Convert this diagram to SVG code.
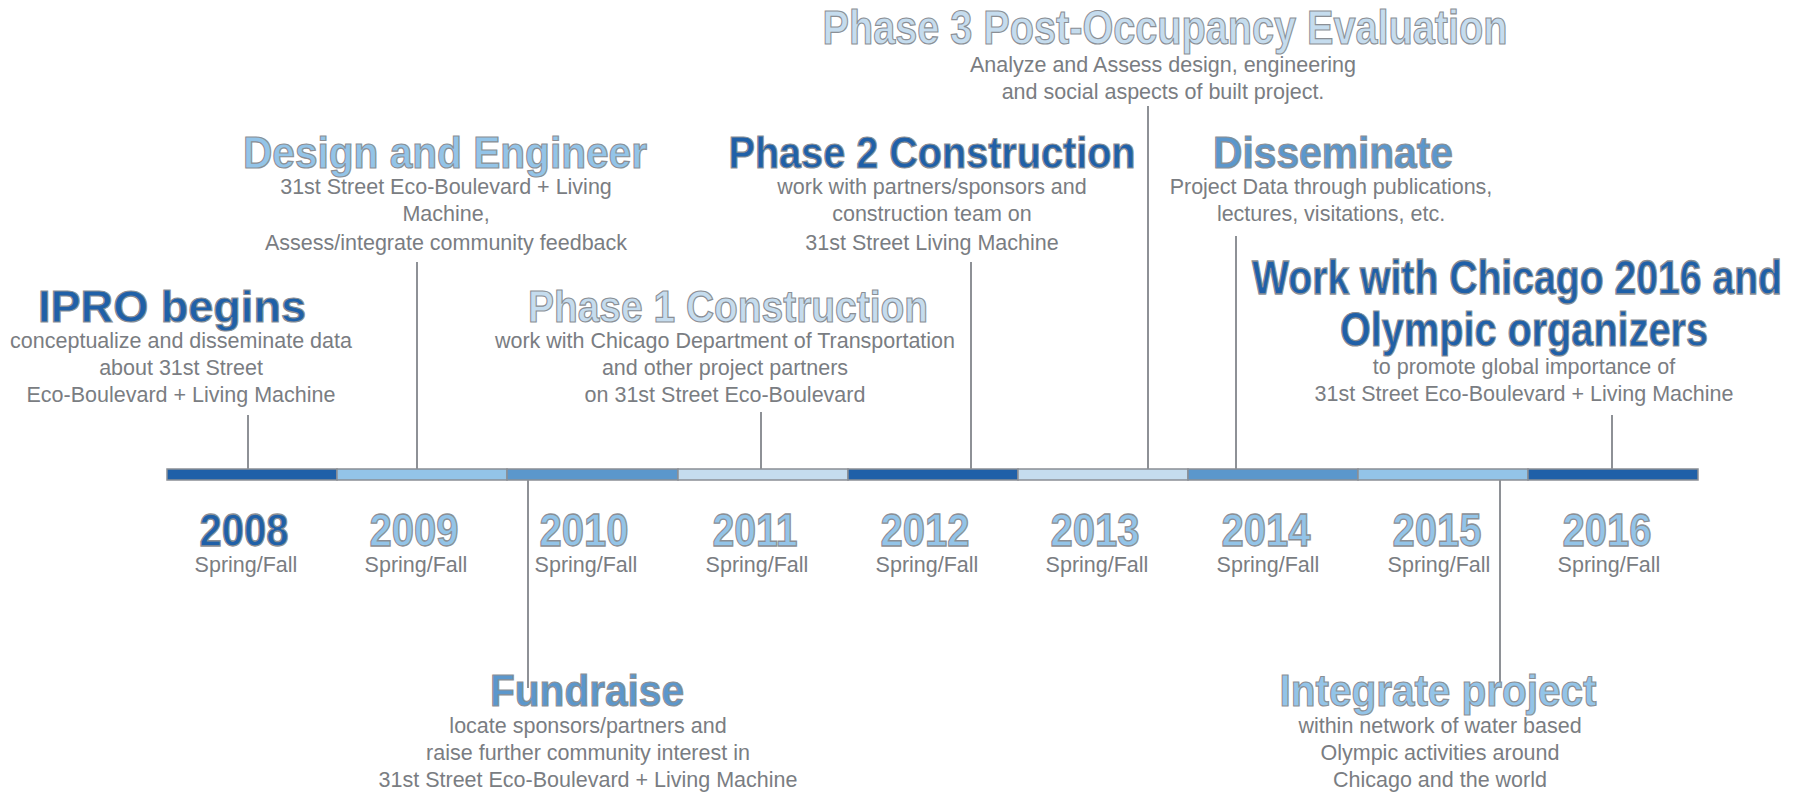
<svg xmlns="http://www.w3.org/2000/svg" width="1808" height="795" viewBox="0 0 1808 795">
<style>
text{font-family:"Liberation Sans",Arial,sans-serif;text-anchor:middle}
.t{font-weight:bold;font-size:45px;stroke:#8b8f95;stroke-width:1.2px}
.d{font-size:21.5px;fill:#7a7d82}
.yr{font-weight:bold;font-size:46px;stroke:#8b8f95;stroke-width:1.3px;fill:#93c4e8}
.sf{font-size:21.5px;fill:#7a7d82}
.dk{fill:#1f60a8}.lt{fill:#93c4e8}.md{fill:#5b97cc}.pl{fill:#c5dcee}
.seg{stroke:#8b8f95;stroke-width:1.5}
.c line{stroke:#8e9196;stroke-width:2}
</style>
<rect width="1808" height="795" fill="#ffffff"/>
<g id="timeline">
<rect class="seg dk" x="167" y="469" width="170" height="11"/>
<rect class="seg lt" x="337" y="469" width="170" height="11"/>
<rect class="seg md" x="507" y="469" width="171" height="11"/>
<rect class="seg pl" x="678" y="469" width="170" height="11"/>
<rect class="seg dk" x="848" y="469" width="170" height="11"/>
<rect class="seg pl" x="1018" y="469" width="170" height="11"/>
<rect class="seg md" x="1188" y="469" width="170" height="11"/>
<rect class="seg lt" x="1358" y="469" width="170" height="11"/>
<rect class="seg dk" x="1528" y="469" width="170" height="11"/>
</g>
<g id="years">
<text class="yr" x="244" y="546" textLength="89" lengthAdjust="spacingAndGlyphs" style="fill:#1f60a8">2008</text>
<text class="yr" x="414" y="546" textLength="89" lengthAdjust="spacingAndGlyphs">2009</text>
<text class="yr" x="584" y="546" textLength="89" lengthAdjust="spacingAndGlyphs">2010</text>
<text class="yr" x="755" y="546" textLength="85" lengthAdjust="spacingAndGlyphs">2011</text>
<text class="yr" x="925" y="546" textLength="89" lengthAdjust="spacingAndGlyphs">2012</text>
<text class="yr" x="1095" y="546" textLength="89" lengthAdjust="spacingAndGlyphs">2013</text>
<text class="yr" x="1266" y="546" textLength="89" lengthAdjust="spacingAndGlyphs">2014</text>
<text class="yr" x="1437" y="546" textLength="89" lengthAdjust="spacingAndGlyphs">2015</text>
<text class="yr" x="1607" y="546" textLength="89" lengthAdjust="spacingAndGlyphs">2016</text>
<text class="sf" x="246" y="572">Spring/Fall</text>
<text class="sf" x="416" y="572">Spring/Fall</text>
<text class="sf" x="586" y="572">Spring/Fall</text>
<text class="sf" x="757" y="572">Spring/Fall</text>
<text class="sf" x="927" y="572">Spring/Fall</text>
<text class="sf" x="1097" y="572">Spring/Fall</text>
<text class="sf" x="1268" y="572">Spring/Fall</text>
<text class="sf" x="1439" y="572">Spring/Fall</text>
<text class="sf" x="1609" y="572">Spring/Fall</text>
</g>
<g id="connectors" class="c">
<line x1="248" y1="415" x2="248" y2="469"/>
<line x1="417" y1="262" x2="417" y2="469"/>
<line x1="528" y1="480" x2="528" y2="688"/>
<line x1="761" y1="412" x2="761" y2="469"/>
<line x1="971" y1="262" x2="971" y2="469"/>
<line x1="1148" y1="106" x2="1148" y2="469"/>
<line x1="1236" y1="236" x2="1236" y2="469"/>
<line x1="1500" y1="480" x2="1500" y2="688"/>
<line x1="1612" y1="415" x2="1612" y2="469"/>
</g>
<g id="phase3">
<text class="t pl" x="1165" y="44" style="font-size:48px" textLength="685" lengthAdjust="spacingAndGlyphs">Phase 3 Post-Occupancy Evaluation</text>
<text class="d" x="1163" y="72">Analyze and Assess design, engineering</text>
<text class="d" x="1163" y="99">and social aspects of built project.</text>
</g>
<g id="design">
<text class="t lt" x="445" y="168" textLength="404" lengthAdjust="spacingAndGlyphs">Design and Engineer</text>
<text class="d" x="446" y="194">31st Street Eco-Boulevard + Living</text>
<text class="d" x="446" y="221">Machine,</text>
<text class="d" x="446" y="250">Assess/integrate community feedback</text>
</g>
<g id="phase2">
<text class="t dk" x="932" y="168" textLength="407" lengthAdjust="spacingAndGlyphs">Phase 2 Construction</text>
<text class="d" x="932" y="194">work with partners/sponsors and</text>
<text class="d" x="932" y="221">construction team on</text>
<text class="d" x="932" y="250">31st Street Living Machine</text>
</g>
<g id="disseminate">
<text class="t md" x="1333" y="168" textLength="240" lengthAdjust="spacingAndGlyphs">Disseminate</text>
<text class="d" x="1331" y="194">Project Data through publications,</text>
<text class="d" x="1331" y="221">lectures, visitations, etc.</text>
</g>
<g id="ipro">
<text class="t dk" x="172" y="322" textLength="268" lengthAdjust="spacingAndGlyphs">IPRO begins</text>
<text class="d" x="181" y="348">conceptualize and disseminate data</text>
<text class="d" x="181" y="375">about 31st Street</text>
<text class="d" x="181" y="402">Eco-Boulevard + Living Machine</text>
</g>
<g id="phase1">
<text class="t pl" x="728" y="322" textLength="400" lengthAdjust="spacingAndGlyphs">Phase 1 Construction</text>
<text class="d" x="725" y="348">work with Chicago Department of Transportation</text>
<text class="d" x="725" y="375">and other project partners</text>
<text class="d" x="725" y="402">on 31st Street Eco-Boulevard</text>
</g>
<g id="chicago2016">
<text class="t dk" transform="translate(1517,294) scale(1,1.17)" x="0" y="0" style="font-size:41px;stroke-width:1.1px" textLength="530" lengthAdjust="spacingAndGlyphs">Work with Chicago 2016 and</text>
<text class="t dk" x="1524" y="346" style="font-size:48px" textLength="368" lengthAdjust="spacingAndGlyphs">Olympic organizers</text>
<text class="d" x="1524" y="374">to promote global importance of</text>
<text class="d" x="1524" y="401">31st Street Eco-Boulevard + Living Machine</text>
</g>
<g id="fundraise">
<text class="t md" x="587" y="706" textLength="194" lengthAdjust="spacingAndGlyphs">Fundraise</text>
<text class="d" x="588" y="733">locate sponsors/partners and</text>
<text class="d" x="588" y="760">raise further community interest in</text>
<text class="d" x="588" y="787">31st Street Eco-Boulevard + Living Machine</text>
</g>
<g id="integrate">
<text class="t lt" x="1438" y="706" textLength="317" lengthAdjust="spacingAndGlyphs">Integrate project</text>
<text class="d" x="1440" y="733">within network of water based</text>
<text class="d" x="1440" y="760">Olympic activities around</text>
<text class="d" x="1440" y="787">Chicago and the world</text>
</g>
</svg>
